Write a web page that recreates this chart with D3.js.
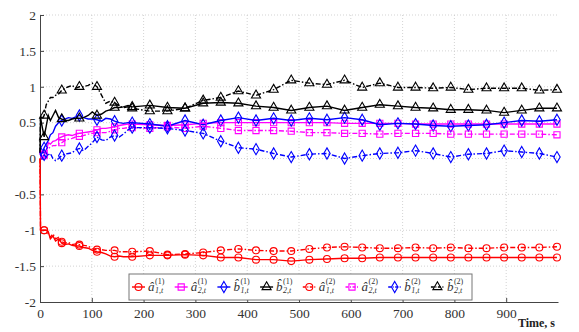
<!DOCTYPE html>
<html>
<head>
<meta charset="utf-8">
<script src="https://cdn.jsdelivr.net/npm/d3@7"></script>
<style>
  body { margin: 0; background: #fff; }
  svg { display: block; }
</style>
</head>
<body>
<script>
// time axis (s) and the samples that carry a marker
const times = [0, 1, 4, 8, 12, 16, 20, 25, 30, 36,
  42, 48, 55, 62, 69, 76, 84, 93, 101, 110,
  119, 127, 136, 144, 153, 161, 170, 178,
  212, 246, 280, 315, 349, 383, 417, 451, 485, 520,
  554, 588, 622, 656, 691, 725, 759, 793, 827, 862,
  896, 930, 964, 998];
const markerTimes = [8, 42, 76, 110, 144, 178, 212, 246, 280, 315, 349, 383, 417, 451, 485, 520,
  554, 588, 622, 656, 691, 725, 759, 793, 827, 862, 896, 930, 964, 998];

// estimates, superscript (1)
const a1t_1 = [0, -1.0, -1.0, -1.0, -1.0, -1.02, -1.12, -1.08, -1.15, -1.12,
  -1.18, -1.2, -1.19, -1.21, -1.22, -1.22, -1.24, -1.25, -1.28, -1.3,
  -1.31, -1.33, -1.36, -1.37, -1.36, -1.37, -1.37, -1.37,
  -1.35, -1.35, -1.34, -1.35, -1.38, -1.38, -1.41, -1.41, -1.43, -1.41,
  -1.40, -1.39, -1.39, -1.38, -1.38, -1.38, -1.38, -1.38, -1.38, -1.38,
  -1.38, -1.38, -1.38, -1.38];
const a2t_1 = [0.1, 0.05, 0.0, 0.04, 0.1, 0.22, 0.2, 0.24, 0.25, 0.28,
  0.3, 0.32, 0.33, 0.32, 0.34, 0.35, 0.36, 0.37, 0.38, 0.4,
  0.42, 0.42, 0.43, 0.44, 0.46, 0.47, 0.48, 0.48,
  0.47, 0.46, 0.47, 0.49, 0.5, 0.5, 0.5, 0.5, 0.5, 0.5,
  0.5, 0.49, 0.49, 0.49, 0.49, 0.48, 0.48, 0.48, 0.48, 0.48,
  0.48, 0.48, 0.48, 0.48];
const b1t_1 = [0.1, 0.1, 0.08, 0.15, 0.2, 0.25, 0.33, 0.36, 0.45, 0.5,
  0.53, 0.55, 0.57, 0.56, 0.58, 0.6, 0.57, 0.55, 0.55, 0.54,
  0.52, 0.56, 0.55, 0.52, 0.5, 0.49, 0.5, 0.5,
  0.48, 0.45, 0.53, 0.47, 0.53, 0.57, 0.53, 0.56, 0.53, 0.56,
  0.54, 0.57, 0.54, 0.47, 0.49, 0.48, 0.46, 0.45, 0.46, 0.47,
  0.5, 0.53, 0.52, 0.54];
const b2t_1 = [0.08, 0.57, 0.45, 0.3, 0.45, 0.6, 0.53, 0.6, 0.67, 0.57,
  0.55, 0.53, 0.53, 0.55, 0.56, 0.56, 0.57, 0.6, 0.65, 0.6,
  0.62, 0.66, 0.68, 0.71, 0.71, 0.72, 0.74, 0.72,
  0.74, 0.71, 0.7, 0.77, 0.78, 0.77, 0.73, 0.71, 0.67, 0.71,
  0.73, 0.67, 0.71, 0.75, 0.73, 0.71, 0.7, 0.68, 0.68, 0.67,
  0.64, 0.67, 0.7, 0.7];

// estimates, superscript (2)
const a1t_2 = [0, -1.0, -1.0, -1.0, -1.0, -1.05, -1.1, -1.05, -1.12, -1.1,
  -1.16, -1.18, -1.17, -1.2, -1.19, -1.2, -1.21, -1.22, -1.26, -1.27,
  -1.27, -1.28, -1.28, -1.28, -1.3, -1.3, -1.3, -1.3,
  -1.29, -1.34, -1.33, -1.31, -1.28, -1.26, -1.28, -1.29, -1.29, -1.26,
  -1.24, -1.23, -1.24, -1.25, -1.25, -1.24, -1.25, -1.24, -1.25, -1.25,
  -1.24, -1.24, -1.24, -1.23];
const a2t_2 = [0.1, 0.05, 0.02, 0.06, 0.1, 0.14, 0.16, 0.18, 0.18, 0.2,
  0.22, 0.25, 0.27, 0.28, 0.3, 0.31, 0.32, 0.34, 0.35, 0.36,
  0.36, 0.36, 0.38, 0.4, 0.42, 0.42, 0.43, 0.43,
  0.42, 0.44, 0.42, 0.45, 0.42, 0.39, 0.39, 0.39, 0.38, 0.36,
  0.36, 0.35, 0.35, 0.34, 0.35, 0.35, 0.35, 0.34, 0.34, 0.34,
  0.34, 0.34, 0.34, 0.33];
const b1t_2 = [0.1, 0.05, 0.0, 0.05, 0.02, 0.05, 0.07, 0.0, -0.03, 0.0,
  0.04, 0.06, 0.07, 0.08, 0.12, 0.14, 0.11, 0.17, 0.22, 0.3,
  0.26, 0.25, 0.3, 0.32, 0.3, 0.34, 0.4, 0.43,
  0.43, 0.42, 0.39, 0.35, 0.24, 0.15, 0.13, 0.07, 0.02, 0.06,
  0.07, 0.0, 0.04, 0.07, 0.08, 0.11, 0.07, 0.02, 0.06, 0.07,
  0.11, 0.09, 0.07, 0.02];
const b2t_2 = [0.08, 0.6, 0.55, 0.6, 0.75, 0.8, 0.85, 0.85, 0.88, 0.9,
  0.95, 0.98, 1.0, 1.02, 0.98, 1.0, 1.0, 1.02, 1.05, 1.0,
  0.88, 0.77, 0.8, 0.78, 0.73, 0.71, 0.72, 0.7,
  0.66, 0.66, 0.7, 0.81, 0.85, 0.94, 0.88, 0.96, 1.09, 1.05,
  1.03, 1.09, 0.99, 1.05, 0.99, 0.99, 0.98, 0.99, 0.96, 0.98,
  0.98, 0.98, 0.95, 0.96];

const xTicks = [0, 100, 200, 300, 400, 500, 600, 700, 800, 900];
const yTicks = [-2, -1.5, -1, -0.5, 0, 0.5, 1, 1.5, 2];
const xLabel = "Time, s";

const series = [
  { vals: a1t_1, color: "#ff0000", sym: d3.symbolCircle,   size: 38, dash: null, base: "\u00e2", sup: "(1)", sub: "1,t" },
  { vals: a2t_1, color: "#ff00ff", sym: d3.symbolSquare,   size: 38, dash: null, base: "\u00e2", sup: "(1)", sub: "2,t" },
  { vals: b1t_1, color: "#0000ff", sym: d3.symbolDiamond,  size: 36, dash: null, base: "b\u0302", sup: "(1)", sub: "1,t" },
  { vals: b2t_1, color: "#000000", sym: d3.symbolTriangle, size: 36, dash: null, base: "b\u0302", sup: "(1)", sub: "2,t" },
  { vals: a1t_2, color: "#ff0000", sym: d3.symbolCircle,   size: 38, dash: "5,2,1.5,2", base: "\u00e2", sup: "(2)", sub: "1,t" },
  { vals: a2t_2, color: "#ff00ff", sym: d3.symbolSquare,   size: 38, dash: "5,2,1.5,2", base: "\u00e2", sup: "(2)", sub: "2,t" },
  { vals: b1t_2, color: "#0000ff", sym: d3.symbolDiamond,  size: 36, dash: "5,2,1.5,2", base: "b\u0302", sup: "(2)", sub: "1,t" },
  { vals: b2t_2, color: "#000000", sym: d3.symbolTriangle, size: 36, dash: "5,2,1.5,2", base: "b\u0302", sup: "(2)", sub: "2,t" }
];

const W = 579, H = 332;
const svg = d3.select("body").append("svg").attr("width", W).attr("height", H);

const x = d3.scaleLinear().domain([0, 1000]).range([40, 558]);
const y = d3.scaleLinear().domain([-2, 2]).range([302, 15]);
const serif = "'Liberation Serif', 'Times New Roman', serif";

// dotted grid
const grid = svg.append("g").attr("stroke", "#c8c8c8").attr("stroke-dasharray", "1,2").attr("stroke-width", 0.8);
grid.selectAll(".gx").data(xTicks.slice(1)).enter().append("line")
  .attr("x1", d => x(d)).attr("x2", d => x(d)).attr("y1", y(2)).attr("y2", y(-2));
grid.selectAll(".gy").data(yTicks.slice(1)).enter().append("line")
  .attr("x1", x(0)).attr("x2", x(1000)).attr("y1", d => y(d)).attr("y2", d => y(d));

// axes
const xAxis = svg.append("g").attr("transform", `translate(0,${y(-2)})`)
  .call(d3.axisBottom(x).tickValues(xTicks).tickFormat(d3.format("d")).tickSize(-4).tickSizeOuter(0).tickPadding(6));
const yAxis = svg.append("g").attr("transform", `translate(${x(0)},0)`)
  .call(d3.axisLeft(y).tickValues(yTicks).tickFormat(d => String(d)).tickSize(-4).tickSizeOuter(0).tickPadding(4));
[xAxis, yAxis].forEach(g => {
  g.select(".domain").attr("stroke", "#444");
  g.selectAll(".tick line").attr("stroke", "#444");
  g.selectAll("text").attr("font-family", serif).attr("font-size", 13.5).attr("fill", "#333");
});

svg.append("text").attr("x", 555).attr("y", 327).attr("text-anchor", "end")
  .attr("font-family", serif).attr("font-weight", "bold").attr("font-size", 12).attr("fill", "#222")
  .text(xLabel);

// lines and markers
const line = d3.line().x((d, i) => x(times[i])).y(d => y(d));
const plot = svg.append("g");
series.forEach(s => {
  plot.append("path").datum(s.vals)
    .attr("d", line).attr("fill", "none").attr("stroke", s.color)
    .attr("stroke-width", 1.4).attr("stroke-dasharray", s.dash);
  const pts = s.vals.map((v, i) => [times[i], v]).filter(p => markerTimes.includes(p[0]));
  plot.selectAll(null).data(pts).enter().append("path")
    .attr("d", d3.symbol().type(s.sym).size(s.size))
    .attr("transform", p => `translate(${x(p[0])},${y(p[1])})`)
    .attr("fill", "none").attr("stroke", s.color).attr("stroke-width", 1.1);
});

// legend
const lg = svg.append("g");
lg.append("rect").attr("x", 129).attr("y", 274).attr("width", 343).attr("height", 26)
  .attr("fill", "#fff").attr("stroke", "#777").attr("stroke-width", 1);
series.forEach((s, k) => {
  const sx = 132 + 42.7 * k, cy = 287;
  lg.append("line").attr("x1", sx).attr("x2", sx + 13).attr("y1", cy).attr("y2", cy)
    .attr("stroke", s.color).attr("stroke-width", 1.4).attr("stroke-dasharray", s.dash ? "3,1.5,1,1.5" : null);
  lg.append("path").attr("d", d3.symbol().type(s.sym).size(s.size)())
    .attr("transform", `translate(${sx + 6.5},${cy})`)
    .attr("fill", "none").attr("stroke", s.color).attr("stroke-width", 1.1);
  lg.append("text").attr("x", sx + 16).attr("y", 291).attr("font-family", serif)
    .attr("font-style", "italic").attr("font-size", 13).attr("fill", "#333").text(s.base);
  lg.append("text").attr("x", sx + 23).attr("y", 284).attr("font-family", serif)
    .attr("font-size", 8).attr("fill", "#333").text(s.sup);
  lg.append("text").attr("x", sx + 23).attr("y", 293).attr("font-family", serif)
    .attr("font-style", "italic").attr("font-size", 8).attr("fill", "#333").text(s.sub);
});
</script>
</body>
</html>
